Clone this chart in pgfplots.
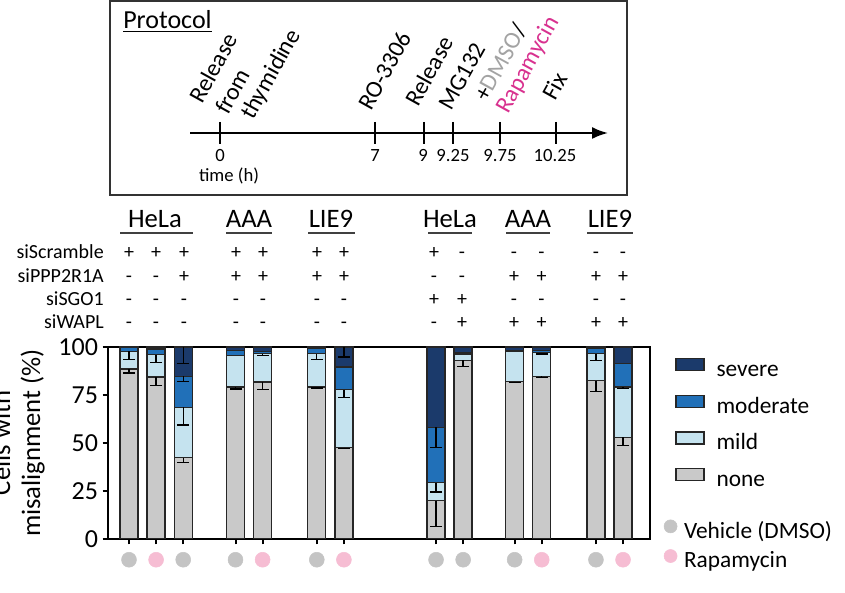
\documentclass[border=0pt]{standalone}
\usepackage{pgfplots}
\pgfplotsset{compat=1.18}
\usepackage{pgfplotstable}
\usepackage{fontspec}
\setmainfont{Carlito}
\usetikzlibrary{arrows.meta}

\definecolor{sev}{HTML}{1B3A6B}
\definecolor{mod}{HTML}{2170B8}
\definecolor{mil}{HTML}{C5E3EF}
\definecolor{non}{HTML}{C9C9C9}
\definecolor{edge}{HTML}{262626}
\definecolor{pinkc}{HTML}{F6BDD3}
\definecolor{grayc}{HTML}{C4C4C4}
\definecolor{magen}{HTML}{D8318F}
\definecolor{dmso}{HTML}{A3A3A3}

\newcommand{\fsz}[1]{\fontsize{#1pt}{#1pt}\selectfont}

% stacked percentages per bar
\pgfplotstableread{
x      none  mild  moderate severe
0      88.5  9.3   1.8      0.4
1      84.3  11.7  3.0      1.0
2      42.4  26.2  16.2     15.2
3.93   79.1  16.5  2.6      1.8
4.93   81.7  14.8  1.0      2.5
6.93   79.1  17.4  3.0      0.5
7.93   47.6  30.2  11.7     10.5
11.33  20.0  9.3   28.8     41.9
12.33  93.0  3.0   0.8      3.2
14.23  82.0  15.7  0.5      1.8
15.23  84.8  12.2  1.2      1.8
17.23  82.5  14.0  3.0      0.5
18.23  52.9  26.2  12.2     8.7
}\bars

% error bars (top of segment, minus error)
\pgfplotstableread{
x      y     e
0      88.5  2.0
0      97.8  4.3
1      84.3  4.4
1      96.0  4.2
2      42.4  2.6
2      68.6  9.3
2      84.8  2.8
2      100   8.7
3.93   79.1  1.0
4.93   81.7  3.9
4.93   96.5  1.0
6.93   79.1  0.5
6.93   96.5  3.0
7.93   47.6  0.6
7.93   77.8  4.0
7.93   100   5.2
11.33  20.0  13.4
11.33  29.3  4.9
11.33  58.1  10.5
12.33  93.0  3.0
14.23  82.0  0.6
15.23  84.8  0.6
15.23  97.0  0.6
17.23  82.5  5.7
17.23  96.5  3.5
18.23  52.9  4.1
18.23  79.1  0.6
}\errs

\pgfplotstableread{
x y
0 -10.8
2 -10.8
3.93 -10.8
6.93 -10.8
11.33 -10.8
12.33 -10.8
14.23 -10.8
17.23 -10.8
}\vehicle
\pgfplotstableread{
x y
1 -10.8
4.93 -10.8
7.93 -10.8
15.23 -10.8
18.23 -10.8
}\rapa

\begin{document}
\begin{tikzpicture}
\pgfplotsset{
  frame/.style={at={(81pt,39.75pt)}, anchor=south west, scale only axis,
    width=406.5pt, height=144pt, xmin=-0.775, xmax=19.225, ymin=0, ymax=100,
    enlargelimits=false},
}
\begin{axis}[frame,
  ybar stacked, bar width=13.5pt,
  ytick={0,25,50,75,100}, xtick=data, xticklabels={},
  tick align=outside, major tick length=4pt,
  xtick pos=bottom, ytick pos=left,
  axis line style={line width=1.5pt},
  tick style={line width=1.5pt, black},
  yticklabel style={font=\fsz{19.5}},
  /pgf/number format/assume math mode=true,
  ylabel={Cells with\\misalignment (\%)},
  every axis y label/.style={at={([xshift=-47.25pt]rel axis cs:0,0.5)},
    rotate=90, anchor=south, inner sep=0pt, align=center,
    font=\fontsize{20pt}{22.5pt}\selectfont},
  reverse legend, legend cell align=left,
  legend style={at={(rel axis cs:1.0461,0.9436)}, anchor=north west,
    draw=none, fill=none, inner sep=0pt, row sep=9.75pt, column sep=9pt,
    font=\fsz{17.5}, nodes={inner sep=0pt, text height=11pt, text depth=4pt}},
  legend image code/.code={\draw[#1, line width=1pt] (0pt,0.75pt) rectangle (21pt,9.75pt);},
  every axis plot/.append style={draw=edge, line width=1pt},
]
\addplot[fill=non] table[x=x, y=none]{\bars};
\addplot[fill=mil] table[x=x, y=mild]{\bars};
\addplot[fill=mod] table[x=x, y=moderate]{\bars};
\addplot[fill=sev] table[x=x, y=severe]{\bars};
\legend{none, mild, moderate, severe}
\end{axis}

\begin{axis}[frame, hide axis, clip=false,
  legend cell align=left,
  legend style={at={(rel axis cs:1.0249,0.1026)}, anchor=north west,
    draw=none, fill=none, inner sep=0pt, row sep=4.4pt, column sep=5pt,
    font=\fsz{17.5}, nodes={inner sep=0pt, text height=11pt, text depth=4pt}},
  legend image code/.code={\fill[#1] (4.9pt,5.25pt) circle (4.9pt);},
]
\addplot[draw=none, mark=none, forget plot,
  error bars/.cd, y dir=minus, y explicit,
  error bar style={draw=black, line width=1pt},
  error mark options={rotate=90, draw=black, line width=1pt, mark size=4.5pt}]
  table[x=x, y=y, y error=e]{\errs};
\addplot[only marks, mark=*, mark size=5.6pt, color=grayc] table{\vehicle};
\addplot[only marks, mark=*, mark size=5.6pt, color=pinkc] table{\rapa};
\legend{Vehicle (DMSO), Rapamycin}
\end{axis}

\begin{scope}[x=0.75pt, y=-0.75pt, shift={(0pt,444pt)}]
% protocol panel
\draw[line width=1.1pt, black!80] (110,1) rectangle (627,195);
\node[anchor=base west, inner sep=0pt, font=\fsz{19.5}] at (123,29) {\underline{Protocol}};
\draw[line width=1.5pt, -{Latex[length=12pt,width=9pt]}] (190,133) -- (608,133);
\foreach \t in {220,375,424,453,500,556}
  \draw[line width=1.5pt] (\t,122) -- (\t,144);
\begin{scope}[every node/.style={anchor=base, inner sep=0pt, font=\fsz{14}}]
\node at (220,162) {0};
\node at (375,162) {7};
\node at (423,162) {9};
\node at (453,162) {9.25};
\node at (500,162) {9.75};
\node at (555,162) {10.25};
\node at (229,182) {time (h)};
\end{scope}
\begin{scope}[every node/.style={anchor=base west, inner sep=0pt, rotate=61, font=\fsz{18}}]
\node at (202,105) {Release};
\node at (228,116) {from};
\node at (253,121) {thymidine};
\node at (371,112) {RO-3306};
\node at (418,108) {Release};
\node at (451,112) {MG132};
\node at (487,103) {+\textcolor{dmso}{DMSO}/};
\node at (508,115) {\textcolor{magen}{Rapamycin}};
\node at (555,102) {Fix};
\end{scope}
% condition table
\begin{scope}[every node/.style={anchor=base, inner sep=0pt, font=\fsz{20}}]
\node at (155,228) {HeLa};
\node at (249,228) {AAA};
\node at (331,228) {LIE9};
\node at (450,228) {HeLa};
\node at (528,228) {AAA};
\node at (610,228) {LIE9};
\end{scope}
\foreach \a/\b in {120/193,226/272,308/355,428/472,506/550,587/633}
  \draw[line width=1.1pt, black!75] (\a,233) -- (\b,233);
\begin{scope}[every node/.style={anchor=base east, inner sep=0pt, font=\fsz{15}}]
\node at (104,259) {siScramble};
\node at (104,282.5) {siPPP2R1A};
\node at (104,305.5) {siSGO1};
\node at (104,329) {siWAPL};
\end{scope}
\begin{scope}[every node/.style={anchor=base, inner sep=0pt, font=\fsz{15}}]
\foreach \x/\a/\b/\c/\d in {129/+/-/-/-, 156/+/-/-/-, 184/+/+/-/-, 236/+/+/-/-, 263/+/+/-/-,
    317/+/+/-/-, 344/+/+/-/-, 434/+/-/+/-, 462/-/-/+/+, 514/-/+/-/+, 541.5/-/+/-/+,
    596/-/+/-/+, 623/-/+/-/+}{
  \node at (\x,259) {\a};
  \node at (\x,282.5) {\b};
  \node at (\x,305.5) {\c};
  \node at (\x,329) {\d};
}
\end{scope}
\end{scope}
\pgfresetboundingbox
\path[use as bounding box] (0,0) rectangle (633.75pt,444pt);
\end{tikzpicture}
\end{document}
